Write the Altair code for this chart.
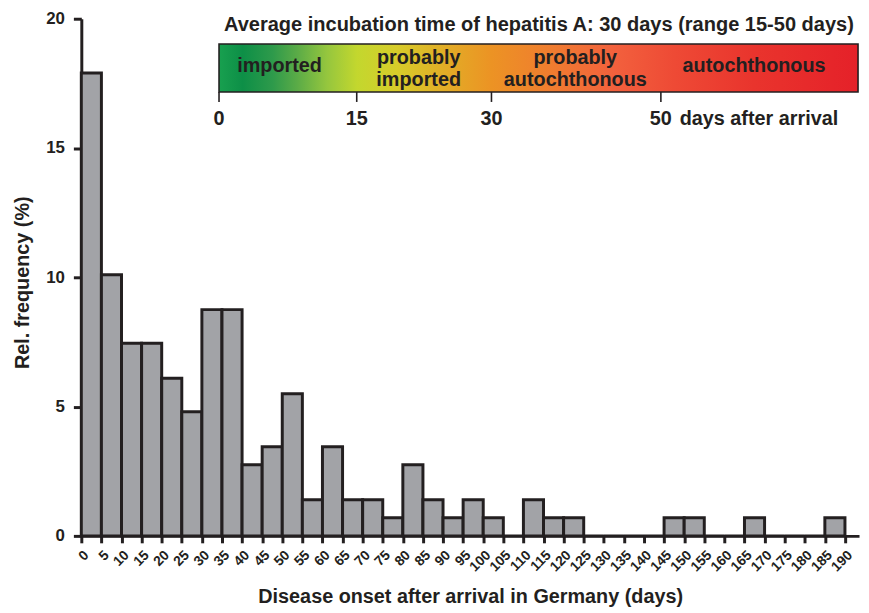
import altair as alt
import pandas as pd

# ---------------- data ----------------
bin_start = list(range(0, 190, 5))
bin_end = [b + 5 for b in bin_start]
rel_freq = [17.9, 10.1, 7.45, 7.45, 6.1, 4.8, 8.75, 8.75, 2.75, 3.45,
            5.5, 1.4, 3.45, 1.4, 1.4, 0.7, 2.75, 1.4, 0.7, 1.4,
            0.7, 0.0, 1.4, 0.7, 0.7, 0.0, 0.0, 0.0, 0.0, 0.7,
            0.7, 0.0, 0.0, 0.7, 0.0, 0.0, 0.0, 0.7]
y_ticks = [0, 5, 10, 15, 20]
x_ticks = list(range(0, 195, 5))

inset_title = "Average incubation time of hepatitis A: 30 days (range 15-50 days)"
inset_tick_days = [0, 15, 30, 50]
inset_tick_labels = ["0", "15", "30", "50"]
inset_end_day = 72
inset_unit_label = "days after arrival"
single_labels = ["imported", "autochthonous"]
single_center_days = [6.6, 60.4]
double_labels = ["probably\nimported", "probably\nautochthonous"]
double_center_days = [21.9, 39.9]
title_center_day = 35.6

INK = "#231f20"
FONT = "Liberation Sans"

# ---------------- main histogram ----------------
bars_df = pd.DataFrame({"start": bin_start, "end": bin_end, "freq": rel_freq})

x_scale = alt.Scale(domain=[0, 193.5], nice=False, zero=False)
y_scale = alt.Scale(domain=[0, 20], nice=False)

bars = alt.Chart(bars_df).mark_bar(
    fill="#a2a3a7", stroke=INK, strokeWidth=3
).encode(
    x=alt.X("start:Q", scale=x_scale, axis=alt.Axis(
        values=x_ticks, labelAngle=-45, labelAlign="right", labelBaseline="top",
        labelPadding=5, labelFontSize=14, labelFont=FONT, labelFontWeight="bold",
        labelColor=INK, labelOverlap=False, labelFlush=False,
        tickSize=7, tickWidth=3, tickColor=INK, domainWidth=3, domainColor=INK,
        grid=False, title="Disease onset after arrival in Germany (days)",
        titleFont=FONT, titleFontSize=20, titleFontWeight="bold", titleColor=INK,
        titleBaseline="alphabetic", titleY=67)),
    x2="end:Q",
    y=alt.Y("freq:Q", scale=y_scale, axis=alt.Axis(
        values=y_ticks, labelFontSize=17, labelFont=FONT, labelFontWeight="bold",
        labelColor=INK, labelPadding=9, tickSize=8, tickWidth=3, tickColor=INK,
        domainWidth=3, domainColor=INK, grid=False,
        title="Rel. frequency (%)", titleFont=FONT, titleFontSize=20,
        titleFontWeight="bold", titleColor=INK, titleBaseline="alphabetic",
        titleX=-53, titleY=266)),
    y2=alt.datum(0),
)

# ---------------- inset (incubation scale) ----------------
inset_domain = inset_tick_days + [inset_end_day]
inset_scale = alt.Scale(domain=inset_domain, range=[139, 278, 414, 585, 784])

gradient = alt.LinearGradient(
    gradient="linear", x1=0, x2=1, y1=0, y2=0,
    stops=[
        alt.GradientStop(offset=0.0, color="#18a04f"),
        alt.GradientStop(offset=0.037, color="#0d8f47"),
        alt.GradientStop(offset=0.084, color="#2e9a4b"),
        alt.GradientStop(offset=0.122, color="#5aab47"),
        alt.GradientStop(offset=0.169, color="#95c63e"),
        alt.GradientStop(offset=0.216, color="#c3d72e"),
        alt.GradientStop(offset=0.278, color="#d7cc2a"),
        alt.GradientStop(offset=0.34, color="#e0b227"),
        alt.GradientStop(offset=0.426, color="#ec9324"),
        alt.GradientStop(offset=0.526, color="#f07b30"),
        alt.GradientStop(offset=0.62, color="#f2603d"),
        alt.GradientStop(offset=0.713, color="#ee4a35"),
        alt.GradientStop(offset=0.837, color="#e9342d"),
        alt.GradientStop(offset=1.0, color="#e52129"),
    ],
)

box_df = pd.DataFrame({"a": [inset_tick_days[0]], "b": [inset_end_day]})
box = alt.Chart(box_df).mark_rect(fill=gradient, stroke=INK, strokeWidth=1.6).encode(
    x=alt.X("a:Q", scale=inset_scale, axis=None),
    x2="b:Q",
    y=alt.value(25.5),
    y2=alt.value(74),
)

ticks_df = pd.DataFrame({"day": inset_tick_days, "label": inset_tick_labels})
inset_ticks = alt.Chart(ticks_df).mark_rule(stroke=INK, strokeWidth=1.6).encode(
    x=alt.X("day:Q", scale=inset_scale, axis=None),
    y=alt.value(74),
    y2=alt.value(84),
)
inset_tick_text = alt.Chart(ticks_df).mark_text(
    font=FONT, fontSize=20, fontWeight="bold", color=INK,
    align="center", baseline="alphabetic"
).encode(
    x=alt.X("day:Q", scale=inset_scale, axis=None),
    y=alt.value(107),
    text="label:N",
)

unit_df = pd.DataFrame({"day": [inset_tick_days[-1]], "t": [inset_unit_label]})
unit_text = alt.Chart(unit_df).mark_text(
    font=FONT, fontSize=20, fontWeight="bold", color=INK,
    align="left", baseline="alphabetic", dx=19
).encode(
    x=alt.X("day:Q", scale=inset_scale, axis=None),
    y=alt.value(107),
    text="t:N",
)

single_df = pd.DataFrame({"day": single_center_days, "label": single_labels})
single_text = alt.Chart(single_df).mark_text(
    font=FONT, fontSize=20, fontWeight="bold", color=INK,
    align="center", baseline="alphabetic"
).encode(
    x=alt.X("day:Q", scale=inset_scale, axis=None),
    y=alt.value(54),
    text="label:N",
)

double_df = pd.DataFrame({"day": double_center_days, "label": double_labels})
double_text = alt.Chart(double_df).mark_text(
    font=FONT, fontSize=20, fontWeight="bold", color=INK,
    align="center", baseline="alphabetic", lineBreak="\n", lineHeight=22
).encode(
    x=alt.X("day:Q", scale=inset_scale, axis=None),
    y=alt.value(45.5),
    text="label:N",
)

title_df = pd.DataFrame({"day": [title_center_day], "t": [inset_title]})
title_text = alt.Chart(title_df).mark_text(
    font=FONT, fontSize=20.2, fontWeight="bold", color=INK,
    align="center", baseline="alphabetic"
).encode(
    x=alt.X("day:Q", scale=inset_scale, axis=None),
    y=alt.value(12),
    text="t:N",
)

inset = alt.layer(box, inset_ticks, inset_tick_text, unit_text,
                  single_text, double_text, title_text)

chart = alt.layer(bars, inset).resolve_scale(x="independent").properties(
    width=785, height=522,
    autosize=alt.AutoSizeParams(type="none"),
    padding={"left": 74, "top": 8, "right": 2, "bottom": 73},
    background="white",
).configure_view(stroke=None)

chart.save("out.html", embed_options={"renderer": "svg", "actions": False})
